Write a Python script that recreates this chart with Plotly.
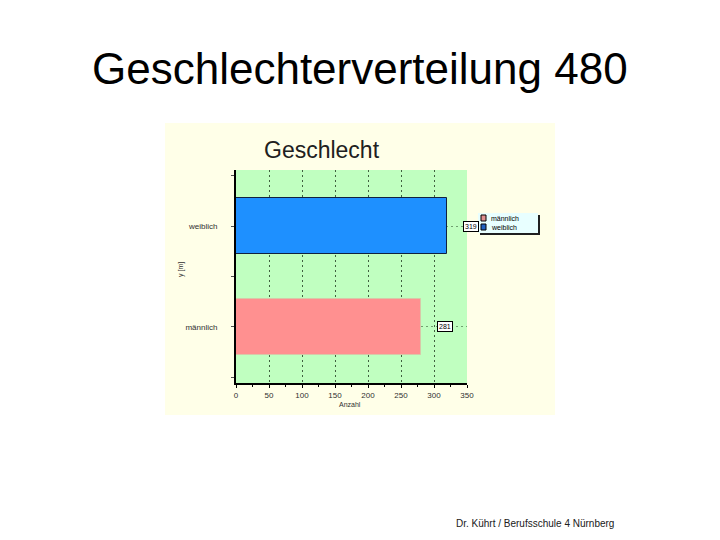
import plotly.graph_objects as go

# chart data
categories = ["männlich", "weiblich"]
counts = [281, 319]
bar_colors = ["#FF9090", "#1E90FF"]
edge_colors = ["#D8C8A8", "#102040"]
legend_colors = ["#E09090", "#2060C0"]
x_ticks = [0, 50, 100, 150, 200, 250, 300, 350]

page_title = "Geschlechterverteilung 480"
chart_title = "Geschlecht"
footer = "Dr. Kührt / Berufsschule 4 Nürnberg"

# the page body adds an 8px margin, so pixel targets are shifted back by it
OFF = 8
L, R, T, B = 236 - OFF, 467 - OFF, 170 - OFF, 383 - OFF
W, H = R - L, B - T


def px_x(p):
    return (p - OFF - L) / W


def px_y(p):
    return (B - (p - OFF)) / H


def label(x, y, text, size, color="#303030", **kw):
    fig.add_annotation(x=px_x(x), y=px_y(y), xref="paper", yref="paper", text=text,
                       showarrow=False, xanchor=kw.pop("xanchor", "center"),
                       yanchor="middle",
                       font=dict(size=size, color=color, family="Liberation Sans"), **kw)


fig = go.Figure()

for i, (cat, val) in enumerate(zip(categories, counts)):
    fig.add_trace(go.Bar(
        x=[val], y=[i], orientation="h", name=cat, width=0.56,
        marker=dict(color=bar_colors[i], line=dict(color=edge_colors[i], width=1)),
        hoverinfo="x+name",
    ))
    # value boxes next to the bars
    fig.add_annotation(
        x=val, y=i, xref="x", yref="y", text=str(val), showarrow=False,
        xshift=24, font=dict(size=7, color="black", family="Liberation Sans"),
        bgcolor="white", bordercolor="black", borderwidth=1, borderpad=1,
    )

shapes = [
    # cream chart image background
    dict(type="rect", xref="paper", yref="paper", x0=px_x(165), x1=px_x(555),
         y0=px_y(415), y1=px_y(123), fillcolor="#FFFFE8", line_width=0, layer="below"),
    # green plot area
    dict(type="rect", xref="paper", yref="paper", x0=0, x1=1, y0=0, y1=1,
         fillcolor="#C0FFC0", line_width=0, layer="below"),
    # legend shadow and box
    dict(type="rect", xref="paper", yref="paper", x0=px_x(480), x1=px_x(540),
         y0=px_y(235), y1=px_y(215), fillcolor="#202020", line_width=0, layer="above"),
    dict(type="rect", xref="paper", yref="paper", x0=px_x(478), x1=px_x(538),
         y0=px_y(233), y1=px_y(213), fillcolor="#E8FFFF", line_width=0, layer="above"),
]
for i, cat in enumerate(categories):
    yc = 218 + 9 * i
    shapes.append(dict(type="rect", xref="paper", yref="paper", x0=px_x(481), x1=px_x(486),
                       y0=px_y(yc + 3), y1=px_y(yc - 3), fillcolor=legend_colors[i],
                       line=dict(color="black", width=1), layer="above"))
    label(489, yc, cat, 7, color="black", xanchor="left")

label(360, 68, page_title, 44, color="black")
label(322, 150, chart_title, 23, color="#202020")
label(350, 404, "Anzahl", 7)
label(181, 270, "y [m]", 7, textangle=-90)
label(535, 523, footer, 10, color="#202020")

fig.update_layout(
    width=720, height=540,
    margin=dict(l=L, r=720 - R, t=T, b=540 - B, autoexpand=False),
    paper_bgcolor="white", plot_bgcolor="rgba(0,0,0,0)",
    shapes=shapes, showlegend=False, bargap=0,
    font=dict(family="Liberation Sans"),
)

fig.update_xaxes(
    range=[0, 350], tickvals=x_ticks, ticks="outside", ticklen=3, tickcolor="black",
    showline=True, linecolor="black", linewidth=2, zeroline=False,
    showgrid=True, gridcolor="#406040", griddash="2px,3px", gridwidth=1,
    tickfont=dict(size=8, color="#303030"),
    minor=dict(dtick=25, ticks="outside", ticklen=2, tickcolor="black", showgrid=False),
)
fig.update_yaxes(
    range=[-0.555, 1.555], tickvals=[0, 1], ticktext=categories, ticks="outside", ticklen=3,
    tickcolor="#505050", showline=True, linecolor="black", linewidth=2, zeroline=False,
    showgrid=True, gridcolor="#70A070", griddash="2px,3px", gridwidth=1,
    tickfont=dict(size=8, color="#303030"), ticklabelstandoff=12,
    minor=dict(tickvals=[-0.5, 0.5, 1.5], ticks="outside", ticklen=3, tickcolor="#505050",
               showgrid=False),
)

fig.write_html("out.html")
